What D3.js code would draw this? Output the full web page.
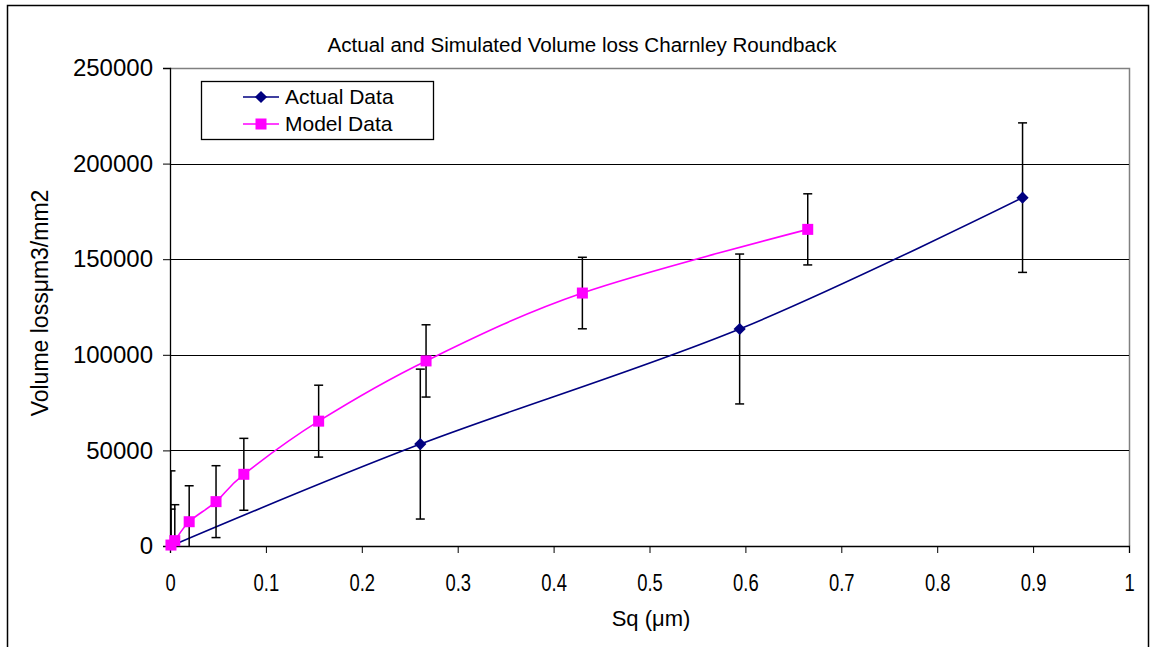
<!DOCTYPE html>
<html>
<head>
<meta charset="utf-8">
<script src="https://cdn.jsdelivr.net/npm/d3@7"></script>
<style>
  html, body { margin: 0; padding: 0; background: #fff; }
  svg { display: block; font-family: "Liberation Sans", Arial, sans-serif; }
</style>
</head>
<body>
<svg id="chart" width="1150" height="647"></svg>
<script>
// Wear volume measurements vs. surface roughness (Sq)
const actualSq   = [0.001, 0.261, 0.594, 0.889];
const actualLoss = [0, 53300, 113500, 182200];
const actualErr  = [39300, 39200, 39200, 39100];

const modelSq   = [0.001, 0.005, 0.020, 0.048, 0.077, 0.155, 0.267, 0.430, 0.665];
const modelLoss = [500, 2800, 12700, 23200, 37500, 65300, 96800, 132300, 165600];
const modelErr  = [18800, 18800, 18800, 18800, 18800, 18800, 18900, 18700, 18600];

const xTicks = [0, 0.1, 0.2, 0.3, 0.4, 0.5, 0.6, 0.7, 0.8, 0.9, 1];
const yTicks = [0, 50000, 100000, 150000, 200000, 250000];

const svg = d3.select("#chart");
const plot = { left: 170, right: 1129, top: 68, bottom: 546 };

const x = d3.scaleLinear().domain([0, 1]).range([plot.left, plot.right]);
const y = d3.scaleLinear().domain([0, 250000]).range([plot.bottom, plot.top]);

// squeeze a text element horizontally to a fraction of its natural width
function condense(sel, factor) {
  sel.each(function () {
    const w = this.getComputedTextLength();
    d3.select(this).attr("textLength", w * factor).attr("lengthAdjust", "spacingAndGlyphs");
  });
}

// outer chart frame
svg.append("rect")
  .attr("x", 7.5).attr("y", 5.5).attr("width", 1141).attr("height", 700)
  .attr("fill", "#fff").attr("stroke", "#000").attr("stroke-width", 1.5);

// plot area frame (top and right edges)
svg.append("path")
  .attr("d", `M${plot.left},${plot.top + 0.5}H${plot.right + 0.5}V${plot.bottom}`)
  .attr("fill", "none").attr("stroke", "#808080").attr("stroke-width", 1.5);

// horizontal gridlines
svg.append("g")
  .selectAll("line")
  .data(yTicks.filter(d => d > 0 && d < 250000))
  .join("line")
  .attr("x1", plot.left).attr("x2", plot.right)
  .attr("y1", d => Math.round(y(d)) + 0.5).attr("y2", d => Math.round(y(d)) + 0.5)
  .attr("stroke", "#000").attr("stroke-width", 1);

// axes
const xAxis = d3.axisBottom(x).tickValues(xTicks).tickSize(7).tickPadding(22)
  .tickFormat(d => d === 0 ? "0" : d === 1 ? "1" : d3.format(".1f")(d));
const gx = svg.append("g").attr("transform", `translate(0,${plot.bottom})`).call(xAxis);
gx.select(".domain").attr("stroke", "#000").attr("stroke-width", 1.3);
gx.selectAll(".tick line").attr("stroke", "#000");
gx.selectAll("text").attr("font-size", 23).attr("fill", "#000")
  .attr("font-family", "Liberation Sans, Arial, sans-serif")
  .call(condense, 0.8);

const yAxis = d3.axisLeft(y).tickValues(yTicks).tickSize(7).tickPadding(10)
  .tickFormat(d3.format("d"));
const gy = svg.append("g").attr("transform", `translate(${plot.left},0)`).call(yAxis);
gy.select(".domain").attr("stroke", "#000").attr("stroke-width", 1.3);
gy.selectAll(".tick line").attr("stroke", "#000");
gy.selectAll("text").attr("font-size", 24).attr("fill", "#000")
  .attr("font-family", "Liberation Sans, Arial, sans-serif");

// clip for marks inside the plot area
svg.append("clipPath").attr("id", "plotClip")
  .append("rect")
  .attr("x", plot.left).attr("y", plot.top - 2)
  .attr("width", plot.right - plot.left).attr("height", plot.bottom - plot.top + 2);

const marks = svg.append("g").attr("clip-path", "url(#plotClip)");

const actual = actualSq.map((s, i) => ({ sq: s, v: actualLoss[i], e: actualErr[i] }));
const model  = modelSq.map((s, i) => ({ sq: s, v: modelLoss[i], e: modelErr[i] }));

const line = d3.line().x(d => x(d.sq)).y(d => y(d.v)).curve(d3.curveCardinal.tension(0));

marks.append("path").datum(actual).attr("d", line)
  .attr("fill", "none").attr("stroke", "#000080").attr("stroke-width", 1.6);
marks.append("path").datum(model).attr("d", line)
  .attr("fill", "none").attr("stroke", "#FF00FF").attr("stroke-width", 1.6);

// error bars
function errorBars(data) {
  const g = marks.append("g").attr("stroke", "#000").attr("stroke-width", 1.5);
  data.forEach(d => {
    const cx = x(d.sq);
    const hi = y(d.v + d.e), lo = y(d.v - d.e);
    g.append("line").attr("x1", cx).attr("x2", cx).attr("y1", hi).attr("y2", lo);
    g.append("line").attr("x1", cx - 4.5).attr("x2", cx + 4.5).attr("y1", hi).attr("y2", hi);
    g.append("line").attr("x1", cx - 4.5).attr("x2", cx + 4.5).attr("y1", lo).attr("y2", lo);
  });
}
errorBars(actual);
errorBars(model);

// markers
const diamond = d3.symbol().type(d3.symbolDiamond2).size(95);
marks.append("g").selectAll("path").data(actual).join("path")
  .attr("transform", d => `translate(${x(d.sq)},${y(d.v)})`)
  .attr("d", diamond).attr("fill", "#000080");

const sq = 11;
svg.append("g").selectAll("rect").data(model).join("rect")
  .attr("x", d => x(d.sq) - sq / 2).attr("y", d => y(d.v) - sq / 2)
  .attr("width", sq).attr("height", sq).attr("fill", "#FF00FF");

// title
svg.append("text")
  .attr("x", 582).attr("y", 52)
  .attr("text-anchor", "middle").attr("font-size", 20)
  .attr("textLength", 509).attr("lengthAdjust", "spacingAndGlyphs")
  .text("Actual and Simulated Volume loss Charnley Roundback");

// axis titles
svg.append("text")
  .attr("x", 651).attr("y", 626)
  .attr("text-anchor", "middle").attr("font-size", 22)
  .text("Sq (μm)");

svg.append("text")
  .attr("transform", "translate(48,303) rotate(-90)")
  .attr("text-anchor", "middle").attr("font-size", 23)
  .text("Volume lossμm3/mm2");

// legend
const legend = svg.append("g");
legend.append("rect")
  .attr("x", 201.5).attr("y", 81.5).attr("width", 232).attr("height", 58)
  .attr("fill", "#fff").attr("stroke", "#000").attr("stroke-width", 1.3);
const legendItems = [
  { name: "Actual Data", color: "#000080", shape: "diamond" },
  { name: "Model Data", color: "#FF00FF", shape: "square" }
];
legendItems.forEach((item, i) => {
  const ly = 97 + i * 27;
  legend.append("line").attr("x1", 243).attr("x2", 279).attr("y1", ly).attr("y2", ly)
    .attr("stroke", item.color).attr("stroke-width", 1.6);
  if (item.shape === "diamond") {
    legend.append("path").attr("transform", `translate(261,${ly})`)
      .attr("d", diamond).attr("fill", item.color);
  } else {
    legend.append("rect").attr("x", 261 - sq / 2).attr("y", ly - sq / 2)
      .attr("width", sq).attr("height", sq).attr("fill", item.color);
  }
  legend.append("text").attr("x", 285).attr("y", ly + 7)
    .attr("font-size", 21).text(item.name);
});
</script>
</body>
</html>
